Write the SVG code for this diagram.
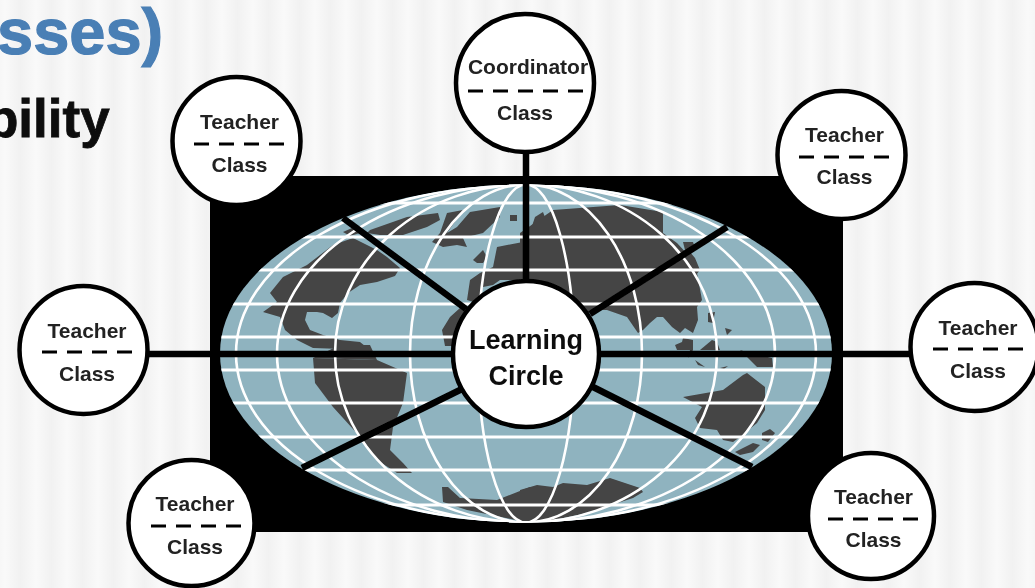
<svg xmlns="http://www.w3.org/2000/svg" width="1035" height="588" viewBox="0 0 1035 588">
<style>
text{font-family:"Liberation Sans",Arial,sans-serif;font-weight:700;text-anchor:middle;fill:#222}
.t{font-size:21px}
.c{font-size:27px;fill:#111}
.n{fill:#fff;stroke:#000;stroke-width:4.5}
.d{stroke:#000;stroke-width:3;stroke-dasharray:15 10;fill:none}
.g{fill:none;stroke:#fff;stroke-width:3}
.m{fill:none;stroke:#fff;stroke-width:2.6}
.l{fill:#454545}
#connectors line{stroke:#000;stroke-width:6.5}
</style>
<defs>
<linearGradient id="band"><stop offset="0" stop-color="#f1f1f1"/><stop offset="0.5" stop-color="#f9f9f9"/><stop offset="1" stop-color="#f1f1f1"/></linearGradient>
<pattern id="bg" width="31" height="588" patternUnits="userSpaceOnUse" patternTransform="translate(-10.500 0)">
<rect width="31" height="588" fill="url(#band)"/>
</pattern>
<clipPath id="globe"><ellipse cx="526" cy="353.5" rx="306" ry="169"/></clipPath>
<filter id="soft" x="-2%" y="-2%" width="104%" height="104%"><feGaussianBlur stdDeviation="0.6"/></filter>
</defs>
<rect width="1035" height="588" fill="url(#bg)"/>
<g filter="url(#soft)">
<text x="-3" y="54" style="font-size:65px;text-anchor:start;fill:#4a7fb5;stroke:#4a7fb5;stroke-width:1.2">sses)</text>
<text x="-14" y="137" style="font-size:53px;text-anchor:start;fill:#0c0c0c;stroke:#0c0c0c;stroke-width:0.8">bility</text>
<g id="map">
<rect x="210" y="176" width="633" height="356" fill="#000"/>
<ellipse cx="526" cy="353.5" rx="306" ry="169" fill="#8fb3bf"/>
<g clip-path="url(#globe)">
<g class="l">
<path d="M307 265L333 245L353 238L377 250L387 257L400 268L395 276L377 282L360 285L348 293L340 303L338 313L332 318L323 313L317 312L307 312L305 320L310 330L323 335L340 340L360 342L370 350L313 348L297 340L285 330L280 317L263 312L277 302L270 293L283 277Z"/>
<path d="M370 230L407 217L438 213L440 220L427 227L403 235L380 235L367 233Z"/>
<path d="M343 232L352 228L360 233L350 236Z"/>
<path d="M440 233L447 213L463 210L447 233L457 227L470 212L500 207L500 217L483 233L463 238L467 247L457 245L443 247L432 242Z"/>
<path d="M510 215L517 215L517 221L510 221Z"/>
<path d="M473 260L483 250L487 257L483 263L477 263Z"/>
<path d="M493 267L497 247L523 242L523 280L500 280L493 285L483 287L477 303L467 300L470 280L480 273Z"/>
<path d="M520 233L553 210L620 205L663 212L663 233L677 243L690 257L697 273L702 300L697 307L698 320L693 333L685 328L680 333L672 327L663 317L657 317L650 323L643 330L638 333L627 317L607 310L590 310L585 320L560 320L520 320Z"/>
<path d="M535 217L543 212L548 225L537 230L530 232Z"/>
<path d="M682 255L690 252L695 258L700 270L692 280L688 270L690 262Z"/>
<path d="M683 242L693 242L695 248L685 250Z"/>
<path d="M460 308L450 317L442 330L445 346L452 346L480 354L520 354L520 300Z"/>
<path d="M675 345L682 342L683 338L693 340L693 350L688 358L690 350L677 350Z"/>
<path d="M700 350L712 340L717 342L720 350Z"/>
<path d="M708 313L715 312L713 323L708 322Z"/>
<path d="M725 328L732 330L727 335Z"/>
<path d="M740 350L750 353L772 358L773 367L757 367Z"/>
<path d="M695 360L705 367L698 365Z"/>
<path d="M720 368L728 366L724 369Z"/>
<path d="M313 358L377 360L407 373L403 403L393 427L390 450L403 463L412 473L397 473L377 460L363 440L333 407L315 383Z"/>
<path d="M340 345L370 345L377 360L313 358Z"/>
<path d="M683 397L723 390L743 375L747 373L765 387L765 410L757 423L740 437L733 442L723 440L717 430L700 428L695 418L702 407Z"/>
<path d="M735 452L753 443L760 445L753 452L740 455Z"/>
<path d="M762 433L770 429L775 433L768 442L762 440Z"/>
<path d="M520 490L537 485L553 487L563 483L587 485L610 478L640 488L643 492L633 498L587 513L540 523L520 523Z"/>
<path d="M442 487L448 487L460 498L497 500L530 487L530 523L467 510L443 502Z"/>
</g>
<g class="g">
<line x1="210" y1="203" x2="843" y2="203"/>
<line x1="210" y1="237" x2="843" y2="237"/>
<line x1="210" y1="270" x2="843" y2="270"/>
<line x1="210" y1="304" x2="843" y2="304"/>
<line x1="210" y1="337" x2="843" y2="337"/>
<line x1="210" y1="370" x2="843" y2="370"/>
<line x1="210" y1="403" x2="843" y2="403"/>
<line x1="210" y1="437" x2="843" y2="437"/>
<line x1="210" y1="470" x2="843" y2="470"/>
<line x1="210" y1="505" x2="843" y2="505"/>
</g>
<g class="m">
<ellipse cx="526" cy="353.5" rx="48" ry="169"/>
<ellipse cx="526" cy="353.5" rx="116" ry="169"/>
<ellipse cx="526" cy="353.5" rx="191" ry="169"/>
<ellipse cx="526" cy="353.5" rx="249" ry="169"/>
<ellipse cx="526" cy="353.5" rx="290" ry="169"/>
</g>
</g>
</g>
<g id="connectors">
<line x1="526" y1="150" x2="526" y2="285"/>
<line x1="343" y1="218" x2="466" y2="309"/>
<line x1="727" y1="227" x2="590" y2="314"/>
<line x1="145" y1="354" x2="455" y2="354"/>
<line x1="597" y1="354" x2="912" y2="354"/>
<line x1="302" y1="468" x2="462" y2="389"/>
<line x1="752" y1="467" x2="593" y2="387"/>
</g>
<g id="center"><circle class="n" cx="526" cy="354" r="73"/><text class="c" x="526" y="349">Learning</text><text class="c" x="526" y="385">Circle</text></g>
<g id="coordinator"><circle class="n" cx="525" cy="83" r="69"/><text class="t" x="528" y="74">Coordinator</text><line class="d" x1="468" y1="91" x2="583" y2="91"/><text class="t" x="525" y="120">Class</text></g>
<g id="teacher-top-left"><circle class="n" cx="236.500" cy="141" r="64"/><text class="t" x="239.500" y="129">Teacher</text><line class="d" x1="194" y1="144" x2="285" y2="144"/><text class="t" x="239.500" y="172">Class</text></g>
<g id="teacher-top-right"><circle class="n" cx="841.500" cy="155" r="64"/><text class="t" x="844.500" y="142">Teacher</text><line class="d" x1="799" y1="157" x2="890" y2="157"/><text class="t" x="844.500" y="184">Class</text></g>
<g id="teacher-left"><circle class="n" cx="83.500" cy="350" r="64"/><text class="t" x="87" y="338">Teacher</text><line class="d" x1="42" y1="352" x2="133" y2="352"/><text class="t" x="87" y="381">Class</text></g>
<g id="teacher-right"><circle class="n" cx="974.500" cy="347" r="64"/><text class="t" x="978" y="335">Teacher</text><line class="d" x1="933" y1="349" x2="1024" y2="349"/><text class="t" x="978" y="378">Class</text></g>
<g id="teacher-bottom-left"><circle class="n" cx="191.500" cy="523" r="63"/><text class="t" x="195" y="511">Teacher</text><line class="d" x1="151" y1="526" x2="242" y2="526"/><text class="t" x="195" y="554">Class</text></g>
<g id="teacher-bottom-right"><circle class="n" cx="871" cy="516" r="63"/><text class="t" x="873.500" y="504">Teacher</text><line class="d" x1="828" y1="519" x2="919" y2="519"/><text class="t" x="873.500" y="547">Class</text></g>
</g>
</svg>
